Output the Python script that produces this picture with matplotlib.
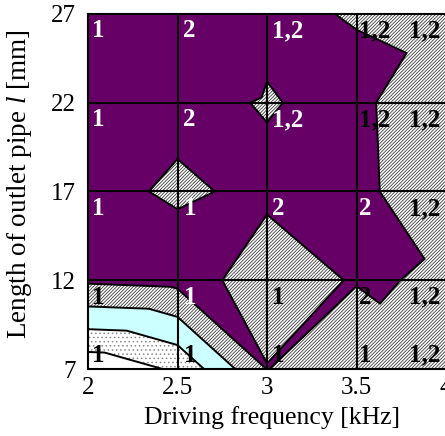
import matplotlib.pyplot as plt
import matplotlib.tri as mtri

plt.rcParams['font.family'] = ['Liberation Serif', 'DejaVu Serif']
plt.rcParams['mathtext.fontset'] = 'custom'
plt.rcParams['mathtext.rm'] = 'Liberation Serif'
plt.rcParams['mathtext.it'] = 'Liberation Serif:italic'
plt.rcParams['hatch.linewidth'] = 0.6

# 网格: 驱动频率 (kHz) x 出口管长度 (mm)
freq = [2.0, 2.5, 3.0, 3.5, 4.0]
length = [7, 12, 17, 22, 27]

# 各格点的值, 每行对应一个 length (7 -> 27)
grid_values = [
    [0.25, 1.15, 4.02, 3.30, 3.86],
    [4.15, 4.30, 3.70, 4.05, 3.948],
    [4.16, 3.925, 4.105, 4.165, 3.53],
    [4.30, 4.13, 3.97, 4.14, 3.50],
    [4.40, 4.47, 4.095, 3.97, 3.89],
]

# 每个格子的对角线方向 ('/' 或 '\\'), 行: length 7 -> 22
cell_split = [
    ['/', '\\', '/', '\\'],
    ['\\', '/', '\\', '\\'],
    ['/', '\\', '/', '\\'],
    ['\\', '\\', '\\', '/'],
]

# 振动模式标签
mode_labels = [
    ['1', '1', '1', '1', '1,2'],
    ['1', '1', '1', '2', '1,2'],
    ['1', '1', '2', '2', '1,2'],
    ['1', '2', '1,2', '1,2', '1,2'],
    ['1', '2', '1,2', '1,2', '1,2'],
]
label_white = [
    [0, 0, 0, 0, 0],
    [0, 1, 0, 0, 0],
    [1, 1, 1, 1, 0],
    [1, 1, 1, 0, 0],
    [1, 1, 1, 0, 0],
]

# 色带: (下限, 上限, 底色, 阴影, 阴影颜色)
bands = [
    (1, 2, 'white', '....', '#8a8a8a'),
    (2, 3, '#ccffff', None, 'black'),
    (3, 4, 'white', '/' * 10, '#3c3c3c'),
    (4, 10, '#660066', None, 'black'),
]


def build_triangulation():
    n = len(freq)
    xs, ys, zs = [], [], []
    for j, yv in enumerate(length):
        for i, xv in enumerate(freq):
            xs.append(xv)
            ys.append(yv)
            zs.append(grid_values[j][i])
    tris = []
    for j in range(len(length) - 1):
        for i in range(n - 1):
            a = j * n + i
            b = a + 1
            c = a + n
            d = c + 1
            if cell_split[j][i] == '/':
                tris += [[a, b, d], [a, d, c]]
            else:
                tris += [[a, b, c], [b, d, c]]
    return mtri.Triangulation(xs, ys, tris), zs


def draw_chart():
    fig = plt.figure(figsize=(4.45, 4.36), dpi=100)
    ax = fig.add_axes([88 / 445, 1 - 369 / 436, 358 / 445, 355 / 436])

    tri, z = build_triangulation()
    for lo, hi, face, hatch, hcolor in bands:
        with plt.rc_context({'hatch.color': hcolor}):
            ax.tricontourf(tri, z, levels=[lo, hi], colors=[face],
                           hatches=[hatch])
    ax.tricontour(tri, z, levels=[1, 2, 3, 4], colors='black', linewidths=1.4)

    for v in freq[1:-1]:
        ax.axvline(v, color='black', lw=1.5)
    for v in length[1:-1]:
        ax.axhline(v, color='black', lw=1.5)

    # 标签
    x_off = [4, 6, 5, 2, -6]
    for j, yv in enumerate(length):
        dy = 14 if j == 0 else -17
        for i, xv in enumerate(freq):
            ax.annotate(mode_labels[j][i], (xv, yv),
                        xytext=(x_off[i], dy), textcoords='offset pixels',
                        ha='right' if i == len(freq) - 1 else 'left',
                        va='center', fontsize=18, fontweight='bold',
                        color='white' if label_white[j][i] else 'black')

    ax.set_xlim(2, 4)
    ax.set_ylim(7, 27)
    ax.set_xticks(freq)
    ax.set_xticklabels(['2', '2.5', '3', '3.5', '4'])
    ax.set_yticks(length)
    ax.tick_params(length=0, labelsize=18)
    ax.tick_params(axis='x', pad=6)
    ax.tick_params(axis='y', pad=9)
    for s in ax.spines.values():
        s.set_linewidth(1.5)

    ax.set_xlabel('Driving frequency [kHz]', fontsize=18.5)
    ax.xaxis.set_label_coords(0.515, -0.105)
    ax.set_ylabel('Length of outlet pipe $\\mathit{l}$ [mm]', fontsize=19.5)
    ax.yaxis.set_label_coords(-0.15, 0.52)

    fig.savefig('out.png', dpi=100)


if __name__ == '__main__':
    draw_chart()
